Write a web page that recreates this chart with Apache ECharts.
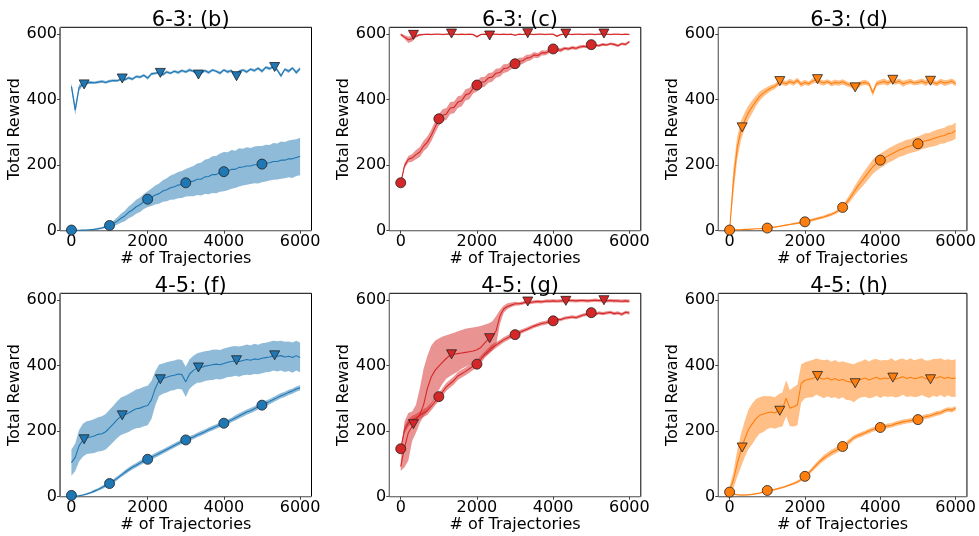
<!DOCTYPE html>
<html>
<head>
<meta charset="utf-8">
<script src="https://cdn.jsdelivr.net/npm/echarts@6/dist/echarts.min.js"></script>
<style>
html,body{margin:0;padding:0;background:#fff;}
#chart{width:979px;height:536px;}
</style>
</head>
<body>
<div id="chart"></div>
<script>
// ---------- data ----------
const X = [0,100,200,300,400,500,600,700,800,900,
  1000,1100,1200,1300,1400,1500,1600,1700,1800,1900,
  2000,2100,2200,2300,2400,2500,2600,2700,2800,2900,
  3000,3100,3200,3300,3400,3500,3600,3700,3800,3900,
  4000,4100,4200,4300,4400,4500,4600,4700,4800,4900,
  5000,5100,5200,5300,5400,5500,5600,5700,5800,5900,6000];
const CIRCLE_X = [0,1000,2000,3000,4000,5000];
const TRI_X = [333,1333,2333,3333,4333,5333];
const X_TICKS = [0,2000,4000,6000];
const Y_TICKS = [0,200,400,600];
const TITLES = ['6-3: (b)','6-3: (c)','6-3: (d)','4-5: (f)','4-5: (g)','4-5: (h)'];

// panel (b)
const b_tri_mean = [440,368,436,447,450,452,451,453,455,452, 456,458,457,462,460,466,462,470,468,474, 465,478,480,482,476,484,480,486,482,488, 484,490,486,478,480,488,482,490,486,480, 490,484,488,472,486,490,484,492,488,495, 486,498,494,500,490,472,492,486,496,482,494];
const b_tri_spread = [12,15,10,5,4,4,4,4,4,4, 4,4,4,4,4,4,4,4,4,4, 5,4,4,4,5,4,4,4,5,4, 4,5,4,5,4,4,5,4,4,5, 4,5,4,5,4,4,5,4,5,4, 5,4,5,4,5,6,4,5,4,6,5];
const b_cir_mean = [1,1,1,2,2,3,4,6,8,12, 16,22,29,38,45,56,63,73,79,89, 96,102,109,113,121,125,131,134,139,141, 146,149,151,157,157,164,165,171,171,177, 180,181,187,187,193,194,197,197,201,201, 203,206,207,211,211,215,215,219,219,223,226];
const b_cir_spread = [1,1,1,1,1,2,2,3,3,4, 5,8,11,14,16,18,20,21,22,23, 24,27,29,31,33,35,37,39,40,41, 42,44,46,48,50,52,54,56,57,58, 60,58,59,57,58,56,57,55,56,57, 55,56,54,56,55,57,55,56,58,56,57];
const b_cir_marks = [2,16,96,146,180,203];
const b_tri_marks = [446,464,481,476,471,499];

// panel (c)
const c_tri_mean = [598,590,582,585,593,597,598,599,598,599, 599,598,599,600,599,598,599,598,599,598, 591,598,599,598,599,599,598,599,598,599, 596,599,598,600,599,598,599,599,598,599, 599,593,598,599,599,598,599,599,598,599, 599,598,599,600,599,598,599,599,598,599,598];
const c_tri_spread = [4,6,10,8,5,3,2,2,2,2, 2,2,2,2,2,2,2,2,2,2, 3,2,2,2,2,2,2,2,2,2, 2,2,2,2,2,2,2,2,2,2, 2,3,2,2,2,2,2,2,2,2, 2,2,2,2,2,2,2,2,2,2,2];
const c_cir_mean = [146,198,218,222,232,240,258,270,290,315, 338,352,356,374,376,392,396,414,418,434, 440,452,454,466,468,480,482,494,496,504, 506,516,518,526,528,536,534,542,542,548, 550,552,550,556,554,558,556,560,562,560, 565,566,564,568,566,570,568,564,570,568,576];
const c_cir_spread = [2,8,10,12,14,15,16,17,18,18, 18,18,18,18,18,18,17,17,17,16, 16,16,15,15,14,14,13,13,12,12, 11,11,10,10,9,9,8,8,7,7, 6,6,6,5,5,5,5,5,5,4, 4,4,4,4,4,4,4,4,4,4,4];
const c_cir_marks = [146,341,444,509,554,567];
const c_tri_marks = [597,601,595,602,601,601];

// panel (d)
const d_tri_mean = [2,150,250,305,335,360,378,395,410,420, 428,435,440,450,452,448,455,450,458,446, 452,448,456,460,454,450,455,448,452,450, 454,448,444,438,442,450,452,448,420,448, 452,455,450,458,452,456,448,452,455,450, 452,456,450,456,452,448,455,450,452,456,448];
const d_tri_spread = [2,40,35,30,25,22,20,16,14,12, 10,9,8,8,8,8,8,8,8,8, 8,7,8,9,8,8,7,8,9,8, 8,8,7,8,9,8,8,7,10,8, 8,9,8,8,7,8,9,8,8,7, 8,8,9,8,7,8,8,9,8,8,8];
const d_cir_mean = [2,2,3,3,4,4,5,6,6,7, 8,10,11,13,15,17,19,21,23,25, 27,30,33,36,39,42,46,50,55,62, 71,85,100,118,135,150,165,180,195,205, 213,220,228,234,240,246,250,255,258,262, 265,270,274,276,280,284,288,290,296,298,305];
const d_cir_spread = [1,1,1,1,1,1,1,1,1,1, 2,2,2,2,2,2,2,3,3,3, 3,3,4,4,4,4,5,5,5,6, 7,10,12,14,16,18,20,21,22,22, 22,22,22,22,22,21,22,22,21,22, 22,22,23,22,23,24,23,24,25,24,25];
const d_cir_marks = [2,8,27,71,215,265];
const d_tri_marks = [315,456,462,437,460,457];

// panel (f)
const f_tri_mean = [104,120,155,172,180,182,185,190,192,198, 210,222,235,245,250,255,262,268,270,275, 278,295,330,355,360,364,368,370,374,372, 350,374,385,392,394,398,400,402,404,402, 406,410,412,414,412,415,418,416,420,418, 422,424,426,430,428,430,426,428,424,430,424];
const f_tri_spread = [40,42,48,50,50,50,52,52,53,54, 55,55,56,57,57,58,58,59,60,60, 60,58,52,48,46,46,45,45,45,45, 46,45,45,45,46,45,45,46,45,45, 46,45,46,45,46,45,46,45,46,45, 46,45,46,45,46,45,46,45,46,45,45];
const f_cir_mean = [3,2,3,5,8,12,17,22,28,34, 40,48,56,65,74,82,90,96,103,109, 114,120,126,132,138,144,150,156,162,168, 173,178,182,188,193,198,204,209,214,219, 224,228,234,240,246,252,258,262,268,274, 279,285,290,296,302,308,312,318,322,328,332];
const f_cir_spread = [1,1,2,2,3,3,4,4,5,5, 6,6,6,6,7,7,7,7,7,7, 7,7,7,7,7,7,7,7,7,7, 7,7,7,7,7,7,7,7,7,7, 7,7,7,8,8,8,8,8,8,8, 8,8,8,8,8,8,8,8,8,8,8];
const f_cir_marks = [4,40,114,173,224,279];
const f_tri_marks = [175,248,358,394,416,431];

// panel (g)
const g_tri_mean = [92,150,195,215,235,250,280,330,365,385, 398,410,422,432,434,436,438,440,442,444, 448,455,468,480,488,505,550,572,580,584, 588,588,590,594,592,594,595,594,596,596, 597,596,597,597,598,598,597,598,598,597, 598,599,598,598,597,598,597,597,596,597,596];
const g_tri_lo = [78,90,110,170,195,225,245,260,280,300, 325,345,360,368,375,382,390,396,402,408, 412,420,428,435,445,460,525,560,572,578, 582,583,585,589,587,589,590,589,591,591, 592,591,592,592,593,593,592,593,593,592, 593,594,593,593,592,593,592,592,591,592,591];
const g_tri_hi = [110,230,255,260,280,330,390,430,460,475, 482,488,492,496,500,504,508,512,514,516, 518,520,524,528,534,550,568,582,590,592, 594,593,595,599,597,599,600,599,601,601, 602,601,602,602,603,603,602,603,603,602, 603,604,603,603,602,603,602,602,601,602,601];
const g_cir_mean = [146,205,225,235,240,248,255,262,275,290, 303,320,335,345,355,368,375,382,390,398, 404,418,432,444,455,462,470,478,484,490, 494,500,505,510,515,520,524,528,530,533, 536,540,540,544,546,548,546,550,554,556, 560,556,560,558,560,562,558,560,556,562,560];
const g_cir_spread = [3,12,12,12,12,12,12,12,12,12, 12,12,12,12,12,12,12,12,12,12, 12,12,10,10,10,9,8,8,8,7, 7,7,6,6,6,6,6,6,6,6, 5,5,5,5,5,5,5,5,5,5, 5,5,5,5,5,5,5,5,5,5,5];
const g_cir_marks = [146,305,404,494,536,561];
const g_tri_marks = [221,434,483,595,597,599];

// panel (h)
const h_tri_mean = [20,50,100,140,175,205,222,238,248,252, 256,258,255,262,266,300,270,274,280,345, 355,358,360,366,362,358,362,356,360,354, 358,352,350,346,354,358,362,356,360,364, 358,362,360,364,358,362,366,360,364,360, 362,366,360,358,364,362,366,360,364,360,362];
const h_tri_spread = [10,25,40,50,55,60,62,60,55,55, 50,48,48,50,52,55,55,60,62,58, 55,56,57,55,56,58,56,55,57,56, 55,57,56,58,56,55,57,56,58,56, 57,55,56,58,56,57,55,56,58,56, 57,56,55,57,56,58,56,57,55,56,57];
const h_cir_mean = [14,8,6,5,5,6,7,9,11,14, 18,20,22,25,28,32,36,40,45,52, 62,72,84,96,108,118,126,134,140,146, 152,160,170,180,186,190,195,200,205,208, 211,212,216,218,222,225,228,230,232,234, 236,240,244,246,250,254,256,262,266,264,270];
const h_cir_spread = [3,2,2,2,2,2,2,2,2,2, 3,3,3,3,3,3,3,4,4,5, 5,6,7,8,8,9,9,9,9,9, 8,8,8,7,7,7,7,7,7,7, 7,7,7,7,7,7,7,7,7,7, 7,7,7,7,7,7,7,7,7,7,7];
const h_cir_marks = [14,19,62,153,211,235];
const h_tri_marks = [150,262,368,346,363,358];

// ---------- build ----------
const BLUE = '#1f77b4', RED = '#d62728', ORANGE = '#ff7f0e';
const FONT = 'DejaVu Sans';
const panels = [
  {color: BLUE,   band: 'rgba(31,119,180,0.5)', tri: [b_tri_mean, b_tri_spread], cir: [b_cir_mean, b_cir_spread], cm: b_cir_marks, tm: b_tri_marks},
  {color: RED,    band: 'rgba(214,39,40,0.5)',  tri: [c_tri_mean, c_tri_spread], cir: [c_cir_mean, c_cir_spread], cm: c_cir_marks, tm: c_tri_marks},
  {color: ORANGE, band: 'rgba(255,127,14,0.5)', tri: [d_tri_mean, d_tri_spread], cir: [d_cir_mean, d_cir_spread], cm: d_cir_marks, tm: d_tri_marks},
  {color: BLUE,   band: 'rgba(31,119,180,0.5)', tri: [f_tri_mean, f_tri_spread], cir: [f_cir_mean, f_cir_spread], cm: f_cir_marks, tm: f_tri_marks},
  {color: RED,    band: 'rgba(214,39,40,0.5)',  tri: [g_tri_mean, null, g_tri_lo, g_tri_hi], cir: [g_cir_mean, g_cir_spread], cm: g_cir_marks, tm: g_tri_marks},
  {color: ORANGE, band: 'rgba(255,127,14,0.5)', tri: [h_tri_mean, h_tri_spread], cir: [h_cir_mean, h_cir_spread], cm: h_cir_marks, tm: h_tri_marks}
];

const GL = [60, 389.3, 718.3], GT = [27.3, 293.3], GW = 251.5, GH = 203.4;
const grids = [], xAxes = [], yAxes = [], titles = [], series = [];

function loHi(s) {
  const mean = s[0];
  if (s[2]) return [s[2], s[3]];
  return [mean.map((v, j) => v - s[1][j]), mean.map((v, j) => v + s[1][j])];
}

function bandSeries(gi, lo, hi, color) {
  return {
    type: 'custom', xAxisIndex: gi, yAxisIndex: gi, silent: true, z: 1,
    data: X.map((x, j) => [x, lo[j], hi[j]]),
    encode: {x: 0, y: [1, 2]},
    renderItem: function (params, api) {
      if (params.dataIndex !== 0) return null;
      const top = X.map((x, j) => api.coord([x, hi[j]]));
      const bot = X.map((x, j) => api.coord([x, lo[j]])).reverse();
      return {type: 'polygon', shape: {points: top.concat(bot)}, style: {fill: color}};
    }
  };
}

const plain = v => String(v);

panels.forEach((p, i) => {
  const col = i % 3, row = Math.floor(i / 3);
  grids.push({left: GL[col], top: GT[row], width: GW, height: GH, show: true,
    borderColor: '#000', borderWidth: 1, backgroundColor: 'transparent'});
  xAxes.push({type: 'value', gridIndex: i, min: -300, max: 6300,
    name: '# of Trajectories', nameLocation: 'middle', nameGap: 19,
    nameTextStyle: {fontSize: 16, fontFamily: FONT, color: '#000'},
    axisLine: {show: true, onZero: false, lineStyle: {color: '#777', width: 1}},
    axisTick: {show: true, length: 3, customValues: X_TICKS, lineStyle: {color: '#444'}},
    axisLabel: {customValues: X_TICKS, formatter: plain, margin: 3, fontSize: 16, fontFamily: FONT, color: '#000'},
    splitLine: {show: false}});
  yAxes.push({type: 'value', gridIndex: i, min: 0, max: 620,
    name: 'Total Reward', nameLocation: 'middle', nameGap: 37,
    nameTextStyle: {fontSize: 16, fontFamily: FONT, color: '#000'},
    axisLine: {show: true, onZero: false, lineStyle: {color: '#777', width: 1}},
    axisTick: {show: true, length: 3, customValues: Y_TICKS, lineStyle: {color: '#444'}},
    axisLabel: {customValues: Y_TICKS, formatter: plain, margin: 3, fontSize: 16, fontFamily: FONT, color: '#000'},
    splitLine: {show: false}});
  titles.push({text: TITLES[i], left: GL[col] + GW / 2, top: row === 0 ? 5 : 271, textAlign: 'center',
    textStyle: {fontSize: 21, fontWeight: 'normal', fontFamily: FONT, color: '#000'}});

  const [cLo, cHi] = loHi(p.cir);
  const [tLo, tHi] = loHi(p.tri);
  series.push(bandSeries(i, cLo, cHi, p.band));
  series.push(bandSeries(i, tLo, tHi, p.band));
  [p.cir[0], p.tri[0]].forEach(mean => {
    series.push({type: 'line', xAxisIndex: i, yAxisIndex: i, silent: true, z: 2,
      data: X.map((x, j) => [x, mean[j]]), showSymbol: false, symbol: 'none',
      lineStyle: {color: p.color, width: 1.1}});
  });
  series.push({type: 'scatter', xAxisIndex: i, yAxisIndex: i, silent: true, z: 3,
    data: CIRCLE_X.map((x, j) => [x, p.cm[j]]), symbol: 'circle', symbolSize: 10,
    itemStyle: {color: p.color, borderColor: '#222', borderWidth: 0.8, opacity: 1}});
  series.push({type: 'scatter', xAxisIndex: i, yAxisIndex: i, silent: true, z: 3,
    data: TRI_X.map((x, j) => [x, p.tm[j]]), symbol: 'triangle', symbolRotate: 180, symbolSize: [10, 9],
    itemStyle: {color: p.color, borderColor: '#222', borderWidth: 0.8, opacity: 1}});
});

const chart = echarts.init(document.getElementById('chart'), null, {renderer: 'canvas'});
chart.setOption({
  animation: false,
  backgroundColor: '#fff',
  textStyle: {fontFamily: FONT},
  title: titles, grid: grids, xAxis: xAxes, yAxis: yAxes, series: series
});
</script>
</body>
</html>
